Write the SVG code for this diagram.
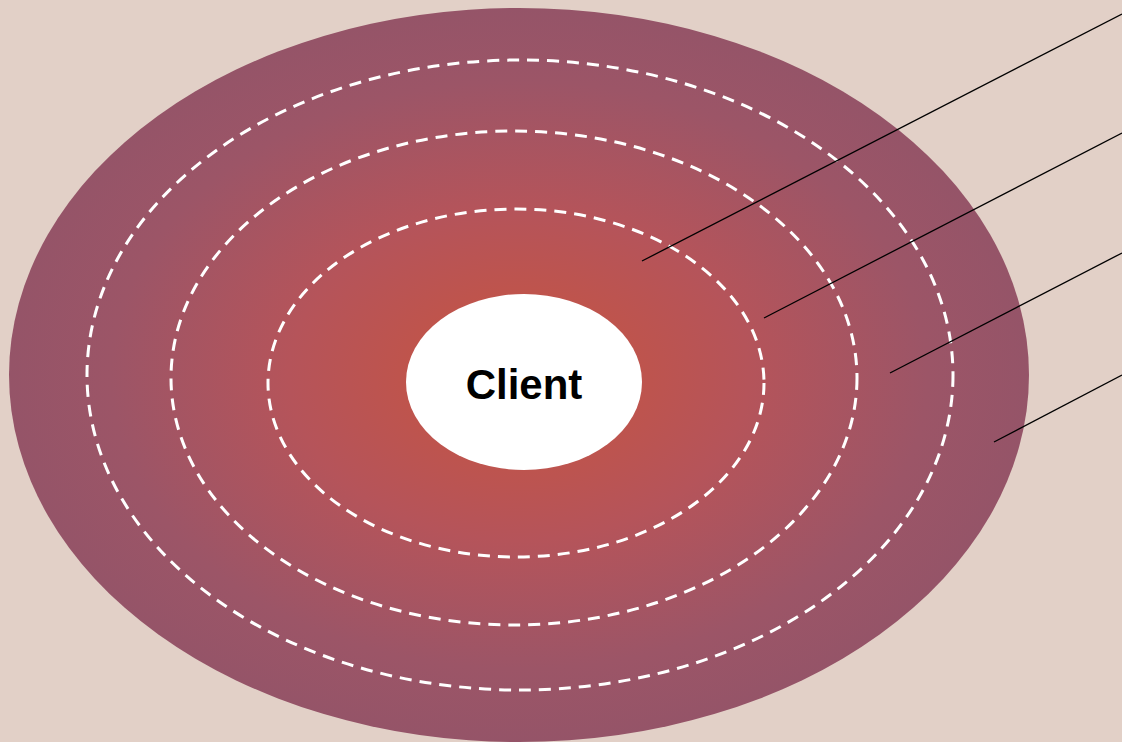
<svg xmlns="http://www.w3.org/2000/svg" width="1122" height="742" viewBox="0 0 1122 742">
<defs>
<radialGradient id="g" cx="519" cy="375" r="510" gradientUnits="userSpaceOnUse" gradientTransform="translate(519 375) scale(1 0.72) translate(-519 -375)">
<stop offset="0" stop-color="#c8543f"/>
<stop offset="0.45" stop-color="#b5545a"/>
<stop offset="0.8" stop-color="#9c5567"/>
<stop offset="1" stop-color="#955468"/>
</radialGradient>
<style>
.ring{fill:none;stroke:#ffffff;stroke-width:3;stroke-dasharray:12 8}
.lead{stroke:#000000;stroke-width:1.3;fill:none}
.lbl{font-family:"Liberation Sans",Arial,sans-serif;font-weight:bold;font-size:42px;fill:#000000}
</style>
</defs>
<rect x="0" y="0" width="1122" height="742" fill="#e2d0c7"/>
<g id="outer">
<ellipse cx="519" cy="375" rx="510" ry="367" fill="url(#g)"/>
</g>
<g id="ring1"><ellipse class="ring" cx="520" cy="375" rx="433" ry="315"/></g>
<g id="ring2"><ellipse class="ring" cx="514" cy="378" rx="343" ry="247"/></g>
<g id="ring3"><ellipse class="ring" cx="516" cy="383" rx="248" ry="174"/></g>
<g id="client">
<ellipse cx="524" cy="382" rx="118" ry="88" fill="#ffffff"/>
<text class="lbl" x="524" y="399" text-anchor="middle">Client</text>
</g>
<g id="connectors">
<line class="lead" x1="642" y1="261" x2="1122" y2="14"/>
<line class="lead" x1="764" y1="318" x2="1122" y2="133"/>
<line class="lead" x1="890" y1="373" x2="1122" y2="253"/>
<line class="lead" x1="994" y1="442" x2="1122" y2="375"/>
</g>
</svg>
